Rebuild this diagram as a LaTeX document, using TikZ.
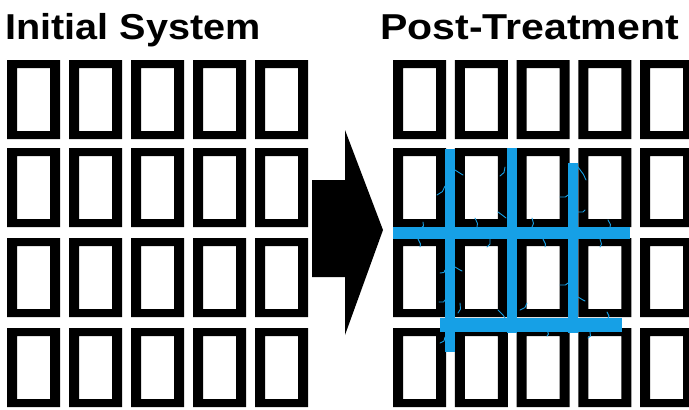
\documentclass[tikz,border=0pt]{standalone}
\usepackage{fontspec}
\setmainfont{Liberation Sans}
\definecolor{crackblue}{RGB}{22,160,230}
\begin{document}
\begin{tikzpicture}[x=1pt,y=-1pt,
  title/.style={anchor=base west,inner sep=0pt,font=\bfseries\fontsize{36}{40}\selectfont},
  cellfill/.style={fill=black,even odd rule},
  channel/.style={fill=crackblue},
  crack/.style={draw=crackblue,line width=0.9pt,line cap=round}]
\useasboundingbox (0,0) rectangle (689,410);
\clip (0,0) rectangle (689,410);
% titles
\node[title] (tleft) at (5,39) {\scalebox{1.1}[1]{Initial System}};
\node[title] (tright) at (380,39) {\scalebox{1.14}[1]{Post-Treatment}};
% left grid
\foreach \i in {0,...,4}
  \foreach \y in {60,148,238,328}
    \fill[cellfill] ({7+62*\i},\y) rectangle ++(53,79) ({17+62*\i},{\y+8}) rectangle ++(33,63);
% right grid
\foreach \i in {0,...,4}
  \foreach \y in {60,148,238,328}
    \fill[cellfill] ({393+61.8*\i},\y) rectangle ++(53,79) ({403+61.8*\i},{\y+8}) rectangle ++(33,63);
% arrow
\fill[black] (312,180) -- (345,180) -- (345,130) -- (383,230) -- (345,335) -- (345,277) -- (312,277) -- cycle;
% blue channels
\fill[channel] (445,149) rectangle (455,352);
\fill[channel] (507,148) rectangle (517,333);
\fill[channel] (568,163) rectangle (578,333);
\fill[channel] (393,227) rectangle (630,239);
\fill[channel] (440,318) rectangle (622,332);
% small cracks
\foreach \a/\b/\c/\d in {455/170/463/175, 505/167/500/176, 445/186/437/195, 498/212/506/218,
  560/197/568/195, 578/167/586/180, 578/212/585/210, 475/218/477/227, 532/218/532/227,
  608/220/610/227, 423/222/421/228, 418/239/420/247, 490/239/487/247, 543/239/545/247,
  600/239/600/247, 445/270/440/273, 455/267/462/271, 445/300/439/302, 460/303/458/313,
  498/310/505/318, 520/310/527/303, 560/285/568/283, 578/297/585/301, 607/312/608/318,
  445/337/440/343, 547/330/547/336, 590/332/588/338}
  \draw[crack] (\a,\b) -- ({(\a+\c)/2+1.5},{(\b+\d)/2+1}) -- (\c,\d);
\end{tikzpicture}
\end{document}
